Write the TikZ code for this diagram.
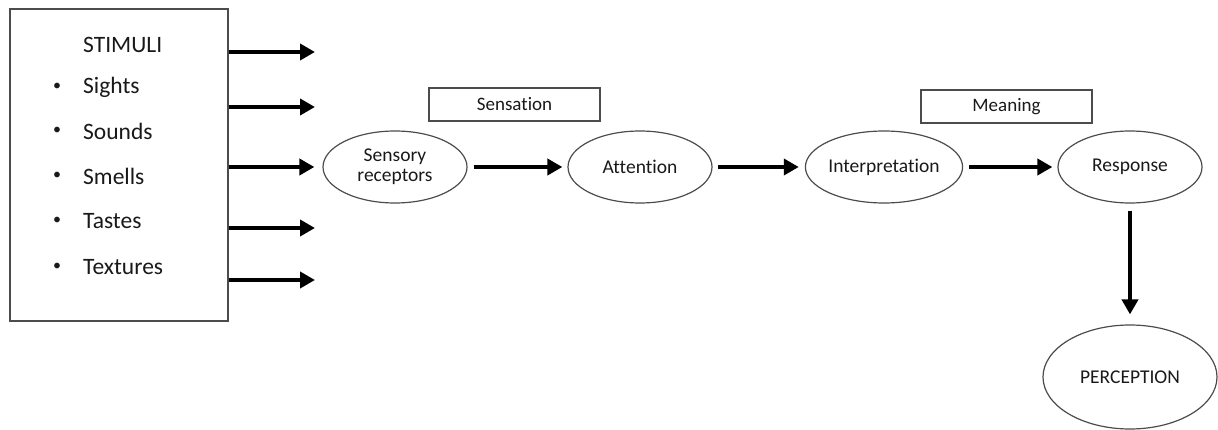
\documentclass[tikz,border=0pt]{standalone}
\usepackage{fontspec}
\setmainfont{Carlito}[Ligatures=NoCommon]
\usetikzlibrary{arrows.meta,shapes.geometric}
\begin{document}
\begin{tikzpicture}[x=1pt,y=-1pt,
  txt/.style={text=black!90, font=\fontsize{19.5}{21}\selectfont},
  item/.style={anchor=west, text=black!90, font=\fontsize{23.5}{26}\selectfont, inner sep=0pt},
  stage/.style={ellipse, draw=black!70, line width=1.2pt, minimum width=144pt, minimum height=72pt, inner sep=0pt, txt, align=center},
  labelbox/.style={draw=black!70, line width=1.2pt, minimum width=171pt, minimum height=33pt, inner sep=0pt, text=black!90, font=\fontsize{19}{21}\selectfont},
  flow/.style={line width=4pt, -{Triangle[length=15pt,width=16pt]}}
]
\useasboundingbox (0,0) rectangle (1218,430);

% stimuli box with its list
\node[draw=black!70, line width=1.2pt, minimum width=218pt, minimum height=312pt, inner sep=0pt] (stim) at (119,165) {};
\node[item] (title) at (83,45) {STIMULI};
\foreach \y/\t/\n in {87/Sights/a, 131/Sounds/b, 176/Smells/c, 221/Tastes/d, 267/Textures/e}{
  \node[item] (it\n) at (83,\y) {\t};
  \node[item, anchor=center, font=\fontsize{16}{18}\selectfont] (bu\n) at (57,\y) {\textbullet};
}

% process stages
\node[stage] (sr) at (395,167) {Sensory\\[-1pt]receptors};
\node[stage] (att) at (640,167) {Attention};
\node[stage] (int) at (884,167) {Interpretation};
\node[stage] (resp) at (1130,167) {Response};
\node[ellipse, draw=black!70, line width=1.2pt, minimum width=174pt, minimum height=104pt, inner sep=0pt, txt] (perc) at (1130,377) {PERCEPTION};

\node[labelbox] (sens) at (514.5,104.5) {Sensation};
\node[labelbox] (mean) at (1006.5,106.5) {Meaning};

% arrows leaving the stimuli box
\foreach \y/\n in {52/a, 107/b, 228/d, 280/e}{
  \coordinate (end\n) at (315,\y);
  \draw[flow] (stim.east |- end\n) -- (end\n);
}
\draw[flow, shorten >=8pt] (stim.east |- sr.west) -- (sr.west);

% arrows between stages
\draw[flow, shorten <=6pt, shorten >=5pt] (sr) -- (att);
\draw[flow, shorten <=5pt, shorten >=6pt] (att) -- (int);
\draw[flow, shorten <=6pt, shorten >=5pt] (int) -- (resp);
\draw[flow, shorten <=7pt, shorten >=10pt] (resp.south) -- (perc.north);
\end{tikzpicture}
\end{document}
